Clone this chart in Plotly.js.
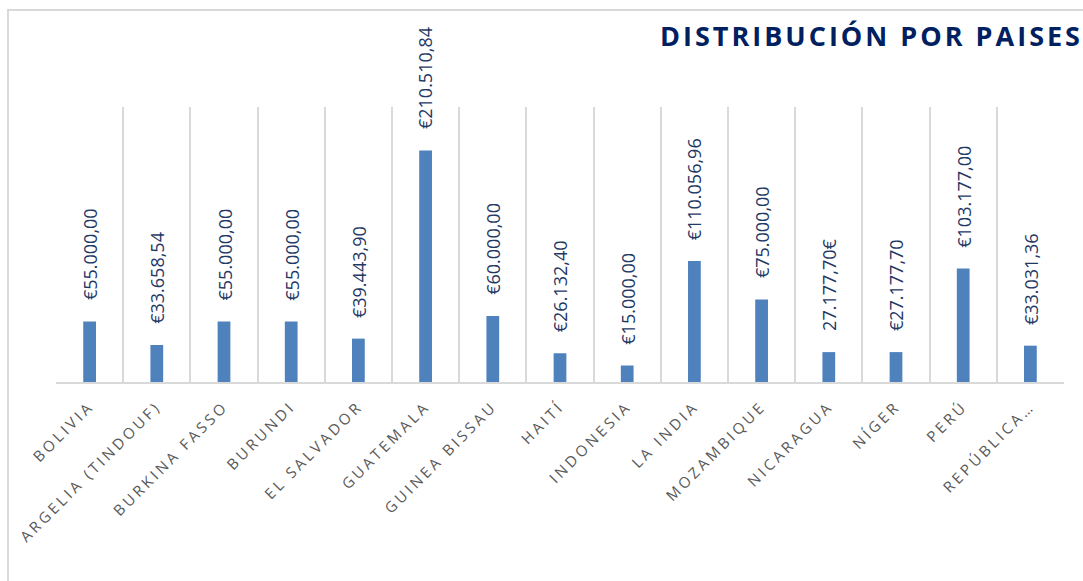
<!DOCTYPE html>
<html>
<head>
<meta charset="utf-8">
<script src="https://cdn.plot.ly/plotly-3.0.1.min.js"></script>
<style>
  html, body { margin: 0; padding: 0; background: #fff; }
  #chart { width: 1083px; height: 581px; }
  .xtick text { letter-spacing: 3.2px; }
  .gtitle { letter-spacing: 3px; }
</style>
</head>
<body>
<div id="chart"></div>
<script>
const categories = ['BOLIVIA', 'ARGELIA (TINDOUF)', 'BURKINA FASSO', 'BURUNDI', 'EL SALVADOR', 'GUATEMALA', 'GUINEA BISSAU', 'HAITÍ', 'INDONESIA', 'LA INDIA', 'MOZAMBIQUE', 'NICARAGUA', 'NÍGER', 'PERÚ', 'REPÚBLICA…'];
const values = [55000, 33658.54, 55000, 55000, 39443.90, 210510.84, 60000, 26132.40, 15000, 110056.96, 75000, 27177.70, 27177.70, 103177.00, 33031.36];
const valueLabels = ['€55.000,00', '€33.658,54', '€55.000,00', '€55.000,00', '€39.443,90', '€210.510,84', '€60.000,00', '€26.132,40', '€15.000,00', '€110.056,96', '€75.000,00', '27.177,70€', '€27.177,70', '€103.177,00', '€33.031,36'];
const chartTitle = 'DISTRIBUCIÓN POR PAISES';

const trace = {
  type: 'bar',
  x: categories,
  y: values,
  width: 0.19,
  marker: { color: '#4f81bd' },
  hoverinfo: 'x+y'
};

const annotations = categories.map((c, i) => ({
  x: c,
  y: values[i],
  xref: 'x',
  yref: 'y',
  text: valueLabels[i],
  textangle: -90,
  showarrow: false,
  xanchor: 'center',
  yanchor: 'bottom',
  yshift: 19,
  font: { family: 'Open Sans, sans-serif', size: 18, color: '#1f3864' }
}));

const layout = {
  width: 1083,
  height: 581,
  margin: { l: 56, r: 19, t: 107, b: 199 },
  paper_bgcolor: '#ffffff',
  plot_bgcolor: '#ffffff',
  showlegend: false,
  title: {
    text: '<b>' + chartTitle + '</b>',
    x: 1,
    xref: 'container',
    xanchor: 'right',
    y: 1 - 37 / 581,
    yref: 'container',
    yanchor: 'middle',
    pad: { r: 0, t: 0, l: 0, b: 0 },
    font: { family: 'Open Sans, sans-serif', size: 27, color: '#002060' }
  },
  xaxis: {
    type: 'category',
    tickson: 'boundaries',
    showgrid: true,
    gridcolor: '#d9d9d9',
    gridwidth: 1.5,
    showline: true,
    linecolor: '#d9d9d9',
    linewidth: 1.5,
    ticks: '',
    tickangle: -45,
    ticklabelstandoff: 8,
    tickfont: { family: 'Open Sans, sans-serif', size: 15, color: '#595959' },
    range: [-0.5, categories.length - 0.5],
    fixedrange: true
  },
  yaxis: {
    range: [0, 250000],
    showgrid: false,
    zeroline: false,
    showline: false,
    showticklabels: false,
    ticks: '',
    fixedrange: true
  },
  annotations: annotations,
  shapes: [{
    type: 'path',
    xref: 'paper',
    yref: 'paper',
    path: 'M -0.0476,-0.8 L -0.0476,1.3527 L 1.05,1.3527',
    line: { color: '#d9d9d9', width: 2 }
  }]
};

Plotly.newPlot('chart', [trace], layout, { displayModeBar: false, staticPlot: false });
</script>
</body>
</html>
